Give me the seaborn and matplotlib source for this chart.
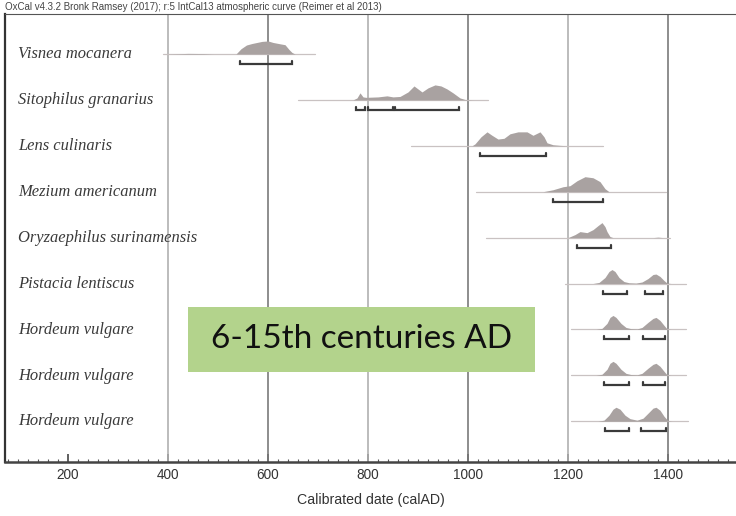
import numpy as np
import matplotlib
matplotlib.use("Agg")
import matplotlib.pyplot as plt
from matplotlib.patches import Rectangle
from matplotlib.ticker import MultipleLocator
import seaborn as sns

# ---------------- data ----------------
samples = ["Visnea mocanera", "Sitophilus granarius", "Lens culinaris",
           "Mezium americanum", "Oryzaephilus surinamensis", "Pistacia lentiscus",
           "Hordeum vulgare", "Hordeum vulgare", "Hordeum vulgare"]

# full extent of the likelihood line (calAD)
range_start = [390, 660, 886, 1016, 1036, 1194, 1206, 1206, 1206]
range_end = [694, 1040, 1270, 1396, 1404, 1436, 1436, 1436, 1440]

# posterior probability curves: dates and relative probability (max ~1)
dates_0 = [390, 420, 440, 470, 490, 536, 546, 557, 568, 588, 600, 610, 624, 634, 642, 648, 654, 694]
prob_0 = [0, 0.02, 0.04, 0.03, 0, 0, 0.35, 0.6, 0.7, 0.84, 0.87, 0.77, 0.68, 0.62, 0.3, 0.1, 0, 0]

dates_1 = [660, 770, 778, 784, 790, 796, 820, 838, 850, 864, 880, 892, 900, 908, 920, 934, 946, 958, 970, 984, 994, 1010, 1040]
prob_1 = [0, 0, 0.13, 0.47, 0.2, 0.17, 0.2, 0.27, 0.2, 0.23, 0.53, 0.93, 0.73, 0.53, 0.8, 1.0, 0.93, 0.73, 0.47, 0.13, 0.03, 0, 0]

dates_2 = [886, 1008, 1014, 1026, 1038, 1048, 1060, 1072, 1084, 1100, 1118, 1130, 1144, 1152, 1158, 1170, 1184, 1200, 1270]
prob_2 = [0, 0, 0.13, 0.6, 0.93, 0.7, 0.45, 0.5, 0.8, 0.93, 0.93, 0.7, 0.93, 0.6, 0.2, 0.07, 0.03, 0, 0]

dates_3 = [1016, 1150, 1170, 1190, 1204, 1218, 1234, 1250, 1264, 1274, 1282, 1396]
prob_3 = [0, 0, 0.13, 0.33, 0.4, 0.73, 1.0, 0.93, 0.67, 0.2, 0, 0]

dates_4 = [1036, 1200, 1214, 1224, 1238, 1250, 1260, 1268, 1274, 1278, 1284, 1290, 1370, 1380, 1390, 1404]
prob_4 = [0, 0, 0.2, 0.4, 0.33, 0.53, 0.8, 1.0, 0.73, 0.4, 0.07, 0, 0, 0.03, 0, 0]

dates_5 = [1194, 1250, 1262, 1274, 1282, 1288, 1294, 1302, 1312, 1322, 1336, 1348, 1360, 1370, 1376, 1384, 1392, 1398, 1406, 1436]
prob_5 = [0, 0, 0.07, 0.4, 0.8, 0.93, 0.8, 0.4, 0.13, 0.05, 0.03, 0.1, 0.33, 0.6, 0.63, 0.47, 0.2, 0.03, 0, 0]

dates_6 = [1206, 1256, 1268, 1278, 1284, 1290, 1296, 1306, 1316, 1326, 1338, 1348, 1360, 1370, 1376, 1384, 1392, 1398, 1406, 1436]
prob_6 = [0, 0, 0.07, 0.4, 0.8, 0.93, 0.8, 0.4, 0.13, 0.05, 0.03, 0.13, 0.47, 0.73, 0.8, 0.6, 0.27, 0.03, 0, 0]

dates_7 = [1206, 1256, 1268, 1278, 1284, 1290, 1296, 1306, 1316, 1326, 1338, 1348, 1360, 1370, 1376, 1384, 1392, 1398, 1406, 1436]
prob_7 = [0, 0, 0.07, 0.4, 0.8, 0.93, 0.8, 0.4, 0.13, 0.05, 0.03, 0.13, 0.47, 0.73, 0.8, 0.6, 0.27, 0.03, 0, 0]

dates_8 = [1206, 1260, 1272, 1282, 1290, 1296, 1304, 1314, 1324, 1338, 1350, 1362, 1370, 1376, 1384, 1392, 1400, 1408, 1440]
prob_8 = [0, 0, 0.07, 0.4, 0.8, 0.93, 0.8, 0.4, 0.17, 0.07, 0.2, 0.6, 0.87, 0.93, 0.73, 0.33, 0.03, 0, 0]

all_dates = [dates_0, dates_1, dates_2, dates_3, dates_4, dates_5, dates_6, dates_7, dates_8]
all_probs = [prob_0, prob_1, prob_2, prob_3, prob_4, prob_5, prob_6, prob_7, prob_8]

# 95.4% highest posterior density ranges
hpd_ranges = [
    [(544, 648)],
    [(776, 794), (800, 850), (854, 982)],
    [(1024, 1156)],
    [(1170, 1270)],
    [(1218, 1286)],
    [(1270, 1318), (1354, 1390)],
    [(1272, 1322), (1350, 1394)],
    [(1272, 1322), (1350, 1394)],
    [(1274, 1322), (1346, 1396)],
]

tick_values = [200, 400, 600, 800, 1000, 1200, 1400]
grid_light = [400, 800, 1200]
grid_dark = [600, 1000, 1400]

header = "OxCal v4.3.2 Bronk Ramsey (2017); r:5 IntCal13 atmospheric curve (Reimer et al 2013)"
x_title = "Calibrated date (calAD)"
box_text = "6-15th centuries AD"

# ---------------- figure ----------------
sns.set_theme(style="white")
plt.rcParams["font.family"] = ["Liberation Sans", "DejaVu Sans"]

W, H = 736, 516
fig = plt.figure(figsize=(W / 100, H / 100), dpi=100)
ax_left, ax_right, ax_top, ax_bot = 5, 736, 14, 462
ax = fig.add_axes([ax_left / W, 1 - ax_bot / H, (ax_right - ax_left) / W, (ax_bot - ax_top) / H])

row_px = 45.9
base0_px = 54
ax.set_xlim(74, 74 + (ax_right - ax_left) * 2)
ax.set_ylim((ax_bot - base0_px) / row_px, (ax_top - base0_px) / row_px)

for v in grid_light:
    ax.axvline(v, color="#b0b0b0", lw=1.2, zorder=1)
for v in grid_dark:
    ax.axvline(v, color="#7a7a7a", lw=1.2, zorder=1)

peak_scale = 15 / row_px
bracket_off = 10 / row_px
tick_h = 3 / row_px

for i, name in enumerate(samples):
    ax.plot([range_start[i], range_end[i]], [i, i], color="#c9c2c2", lw=0.9, zorder=2)
    d = np.array(all_dates[i], dtype=float)
    p = np.array(all_probs[i], dtype=float)
    ax.fill_between(d, i, i - p * peak_scale, color="#a9a2a1", lw=0, zorder=3)
    yb = i + bracket_off
    for (a, b) in hpd_ranges[i]:
        ax.plot([a, a, b, b], [yb - tick_h, yb, yb, yb - tick_h], color="#3a3a3a",
                lw=1.6, solid_joinstyle="miter", zorder=4)
    ax.text(100, i + 0.005, name, fontsize=11.9, style="italic", family="Liberation Serif",
            color="#3a3a3a", va="center", ha="left", zorder=5)

ax.set_xticks(tick_values)
ax.set_xticklabels([str(t) for t in tick_values])
ax.xaxis.set_minor_locator(MultipleLocator(20))
ax.tick_params(axis="x", which="major", direction="in", length=6, width=1.2, color="#444444",
               labelsize=9.8, labelcolor="#333333", pad=4, bottom=True)
ax.tick_params(axis="x", which="minor", direction="in", length=2.5, width=0.8, color="#555555", bottom=True)
ax.set_yticks([])

ax.spines["right"].set_visible(False)
ax.spines["left"].set_color("#333333")
ax.spines["left"].set_linewidth(1.6)
ax.spines["bottom"].set_color("#444444")
ax.spines["bottom"].set_linewidth(1.8)
ax.spines["top"].set_color("#555555")
ax.spines["top"].set_linewidth(0.8)

ax.set_xlabel(x_title, fontsize=10.2, color="#333333", labelpad=8)

fig.text(5 / W, 1 - 7 / H, header, fontsize=7, color="#444444", ha="left", va="center")

# green annotation box
bx0, bx1, by0, by1 = 188, 535, 307, 372
fig.patches.append(Rectangle((bx0 / W, 1 - by1 / H), (bx1 - bx0) / W, (by1 - by0) / H,
                             transform=fig.transFigure, facecolor="#b3d38c", edgecolor="none", zorder=10))
fig.text((bx0 + bx1) / 2 / W, 1 - 339.5 / H, box_text, fontsize=24, family="Lato",
         color="#111111", ha="center", va="center", zorder=11)

fig.savefig("out.png", dpi=100)
